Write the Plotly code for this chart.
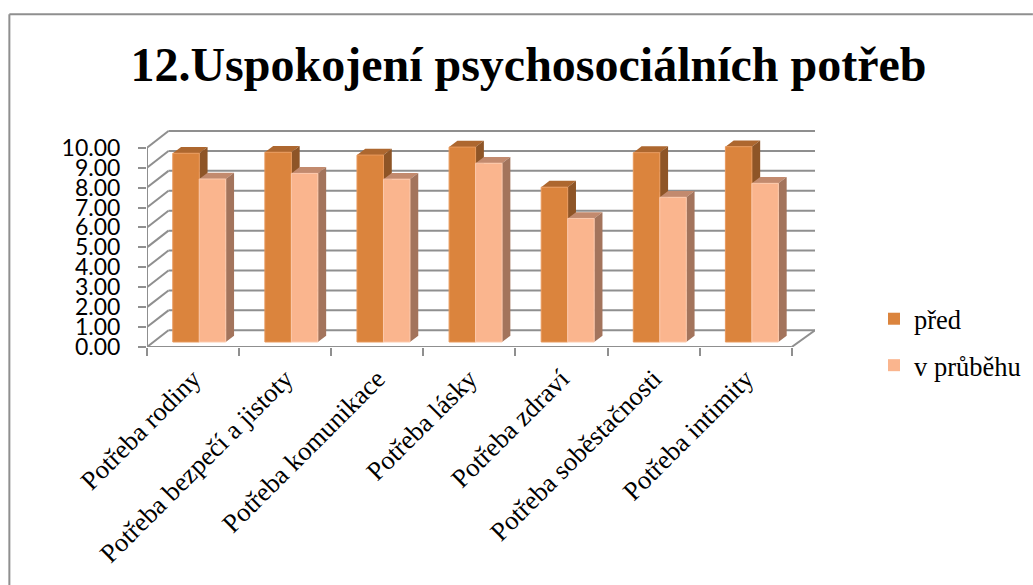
import plotly.graph_objects as go

categories = ["Potřeba rodiny", "Potřeba bezpečí a jistoty", "Potřeba komunikace", "Potřeba lásky",
              "Potřeba zdraví", "Potřeba soběstačnosti", "Potřeba intimity"]
pred = [9.47, 9.52, 9.38, 9.78, 7.77, 9.50, 9.80]
v_prubehu = [8.18, 8.46, 8.17, 8.97, 6.20, 7.26, 7.96]
y_ticks = list(range(0, 11))
y_labels = [f"{v:.2f}" for v in y_ticks]

W, H = 1033, 585
L, R, T, B = 146.7, 815.0, 130.0, 346.7
UX = (791.7 - 146.7) / 7
UY = 19.9
WALL_DX, WALL_DY = 21.5 / UX, 16.7 / UY
BAR_X0, BAR_W, BAR_BASE = 25.8 / UX, 26.5 / UX, 5.0 / UY
SIDE_DX, SIDE_DY = 8.3 / UX, 6.3 / UY
X_MAX = (R - L) / UX
Y_MAX = (B - T) / UY
n = len(categories)

GRID = "#8f8f8f"
O_F, O_S, O_T = "#DB843D", "#8E5527", "#AD672F"
P_F, P_S, P_T = "#FAB58E", "#A3745C", "#C28A6E"

shapes = []
def seg(x0, y0, x1, y1):
    shapes.append(dict(type="line", xref="x", yref="y", x0=x0, y0=y0, x1=x1, y1=y1, layer="below",
                       line=dict(color=GRID, width=2)))
for v in y_ticks:
    seg(WALL_DX, v + WALL_DY, X_MAX, v + WALL_DY)
    seg(0, v, WALL_DX, v + WALL_DY)
seg(0, 0, 0, y_ticks[-1])
seg(0, 0, n, 0)
seg(n, 0, X_MAX, WALL_DY)

def px(x):
    return (x - L) / (R - L)
def py(y):
    return (B - y) / (B - T)
shapes.append(dict(type="line", xref="paper", yref="paper", x0=px(9), y0=py(585), x1=px(9), y1=py(14.5),
                   line=dict(color="#8f8f8f", width=2)))
shapes.append(dict(type="line", xref="paper", yref="paper", x0=px(9), y0=py(14.5), x1=px(1033), y1=py(14.5),
                   line=dict(color="#8f8f8f", width=2)))

def depth_polys(values, left):
    side_x, side_y, top_x, top_y = [], [], [], []
    for i, v in enumerate(values):
        x0 = i + left
        x1 = x0 + BAR_W
        side_x += [x1, x1 + SIDE_DX, x1 + SIDE_DX, x1, x1, None]
        side_y += [BAR_BASE, BAR_BASE + SIDE_DY, BAR_BASE + v + SIDE_DY, BAR_BASE + v, BAR_BASE, None]
        top_x += [x0, x0 + SIDE_DX, x1 + SIDE_DX, x1, x0, None]
        top_y += [BAR_BASE + v, BAR_BASE + v + SIDE_DY, BAR_BASE + v + SIDE_DY, BAR_BASE + v, BAR_BASE + v, None]
    return side_x, side_y, top_x, top_y

fig = go.Figure()
for values, left, cs, ct in [(pred, BAR_X0, O_S, O_T), (v_prubehu, BAR_X0 + BAR_W, P_S, P_T)]:
    sx, sy, tx, ty = depth_polys(values, left)
    for xs, ys, c in [(tx, ty, ct), (sx, sy, cs)]:
        fig.add_trace(go.Scatter(x=xs, y=ys, mode="lines", fill="toself", fillcolor=c,
                                 line=dict(width=0, color=c), showlegend=False, hoverinfo="skip"))

for name, values, left, c, edge in [("před", pred, BAR_X0, O_F, "#E8995C"),
                                    ("v průběhu", v_prubehu, BAR_X0 + BAR_W, P_F, "#FCC9AC")]:
    fig.add_trace(go.Bar(x=[i + left + BAR_W / 2 for i in range(n)], y=values, base=BAR_BASE, width=BAR_W,
                         marker=dict(color=c, line=dict(color=edge, width=1)), showlegend=False,
                         name=name, xaxis="x2", yaxis="y2"))
    fig.add_trace(go.Scatter(x=[None], y=[None], mode="markers", name=name, legendgroup=name,
                             marker=dict(symbol="square", size=15, color=c)))

fig.update_layout(
    width=W, height=H, autosize=False, paper_bgcolor="white", plot_bgcolor="rgba(0,0,0,0)",
    margin=dict(l=L, r=W - R, t=T, b=H - B, pad=0), barmode="overlay", shapes=shapes,
    title=dict(text="<b>12.Uspokojení psychosociálních potřeb</b>", x=528.5 / W, xanchor="center",
               y=1 - 64 / H, yanchor="middle", font=dict(family="Liberation Serif", size=48, color="black")),
    xaxis=dict(range=[0, X_MAX], tickmode="array", tickvals=[i + 0.5 for i in range(n)], ticktext=categories,
               tickangle=-45, ticks="", showgrid=False, zeroline=False, showline=False, automargin=False,
               ticklabelstandoff=10, tickfont=dict(family="Liberation Serif", size=26.5, color="black"),
               minor=dict(tickmode="array", tickvals=list(range(n + 1)), ticks="outside", ticklen=8, tickwidth=2,
                          tickcolor=GRID, showgrid=False)),
    yaxis=dict(range=[0, Y_MAX], tickmode="array", tickvals=y_ticks, ticktext=y_labels, ticks="outside",
               ticklen=8, tickwidth=2, tickcolor=GRID, showgrid=False, zeroline=False, showline=False,
               automargin=False, ticklabelstandoff=13, tickfont=dict(family="Lato", size=23, color="black")),
    xaxis2=dict(range=[0, X_MAX], overlaying="x", visible=False),
    yaxis2=dict(range=[0, Y_MAX], overlaying="y", visible=False),
    legend=dict(xref="container", yref="container", x=874 / W, y=1 - 295 / H, xanchor="left", yanchor="top",
                tracegroupgap=9, itemsizing="constant",
                bgcolor="rgba(0,0,0,0)", font=dict(family="Liberation Serif", size=26.5, color="black")),
    showlegend=True,
)
fig.write_html("out.html", config=dict(displayModeBar=False),
               post_script="document.body.style.margin='0';document.body.style.overflow='hidden';")
